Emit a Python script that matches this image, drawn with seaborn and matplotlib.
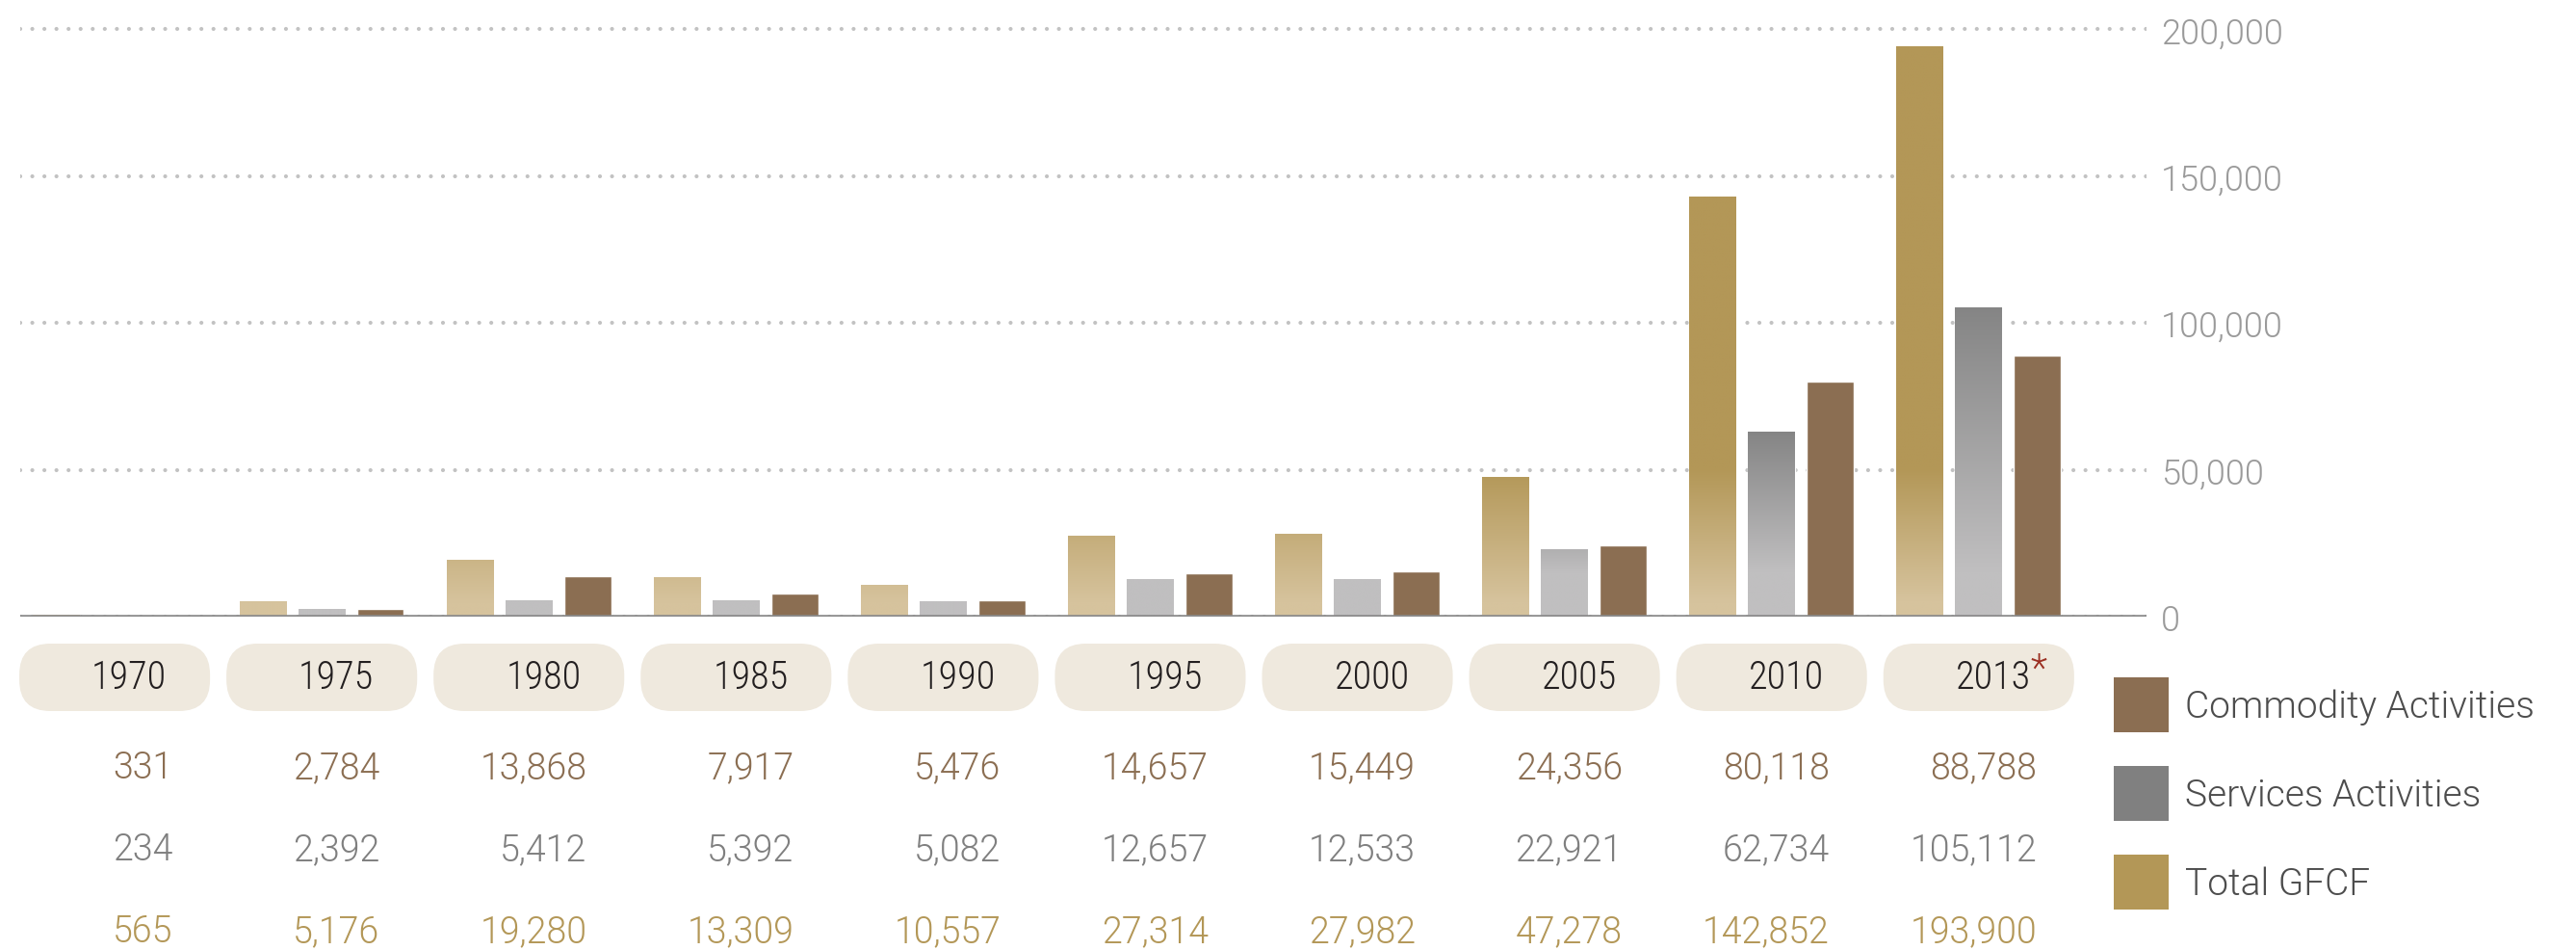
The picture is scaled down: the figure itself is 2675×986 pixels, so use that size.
import numpy as np
import pandas as pd
import seaborn as sns
import matplotlib.pyplot as plt
from matplotlib.patches import FancyBboxPatch, Patch
from matplotlib.ticker import FuncFormatter
from matplotlib.colors import to_rgb
import matplotlib.transforms as mtransforms

sns.set_style("white")
plt.rcParams['font.family'] = ['Roboto', 'DejaVu Sans']
plt.rcParams['font.weight'] = 300
COND = ['Roboto Condensed', 'DejaVu Sans']

# data
years = ["1970", "1975", "1980", "1985", "1990", "1995", "2000", "2005", "2010", "2013"]
commodity = [331, 2784, 13868, 7917, 5476, 14657, 15449, 24356, 80118, 88788]
services = [234, 2392, 5412, 5392, 5082, 12657, 12533, 22921, 62734, 105112]
total = [565, 5176, 19280, 13309, 10557, 27314, 27982, 47278, 142852, 193900]

series_names = ["Total GFCF", "Services Activities", "Commodity Activities"]
colors = {"Total GFCF": "#b39757",
          "Services Activities": "#808080",
          "Commodity Activities": "#8b6e52"}
text_colors = {"Commodity Activities": "#8b6e52",
               "Services Activities": "#7f7f7f",
               "Total GFCF": "#b39757"}

df = pd.DataFrame({
    "year": years * 3,
    "series": ["Total GFCF"] * 10 + ["Services Activities"] * 10 + ["Commodity Activities"] * 10,
    "value": total + services + commodity,
})

W, H = 2675, 987
fig = plt.figure(figsize=(W / 100, H / 100), dpi=100)
ax_top, ax_bot = 19, 641
ax = fig.add_axes([21 / W, 1 - ax_bot / H, 2208 / W, (ax_bot - ax_top) / H])

sns.barplot(data=df, x="year", y="value", hue="series", hue_order=series_names,
            palette=colors, width=0.85, gap=0.2, saturation=1, legend=False, ax=ax)

# gradient fills for the gold and grey bars
def grad_img(h, light, dark, t_fn):
    ys = np.linspace(0, h, 200)
    t = np.clip(t_fn(ys, h), 0, 1)[:, None]
    lo, hi = np.array(to_rgb(light)), np.array(to_rgb(dark))
    return (lo + (hi - lo) * t)[:, None, :]

grad = {
    "Total GFCF": ("#d6c39d", "#b39757", lambda y, h: (y - 5000) / 45000),
    "Services Activities": ("#c0bfc0", "#858585",
                            lambda y, h: (y - 15000) / (max(h, 45000) - 15000)),
}
for name, cont in zip(series_names, ax.containers):
    if name not in grad:
        continue
    light, dark, fn = grad[name]
    for p in cont.patches:
        x0, w, h = p.get_x(), p.get_width(), p.get_height()
        ax.imshow(grad_img(h, light, dark, fn), extent=(x0, x0 + w, 0, h),
                  origin="lower", aspect="auto", interpolation="bilinear",
                  zorder=p.get_zorder() + 0.1)

ax.set_xlim(-0.456, 9.81)
ax.set_ylim(0, 204000)
ax.axhline(0, color="#8c8c8c", lw=2.6, zorder=5)

ax.set_yticks([0, 50000, 100000, 150000, 200000])
ax.yaxis.set_major_formatter(FuncFormatter(lambda v, pos: f"{v:,.0f}"))
ax.yaxis.tick_right()
ax.tick_params(axis="y", length=0, pad=11, labelsize=26, labelcolor="#9a9a9a")
ax.set_xticks([])
ax.set(xlabel="", ylabel="")
ax.set_axisbelow(True)
ax.yaxis.grid(True, color="#c2c2c2", lw=3, linestyle=(0, (0.01, 3.0)),
              dash_capstyle="round")
sns.despine(ax=ax, left=True, bottom=True, right=True, top=True)

# year boxes and value table under the bars
px = ax_bot - ax_top
tr = mtransforms.blended_transform_factory(ax.transData, ax.transAxes)
def fy(p):
    return (ax_bot - p) / px

box_w = 198 / 215
for i, yr in enumerate(years):
    box = FancyBboxPatch((i - box_w / 2, fy(739)), box_w, fy(669) - fy(739),
                         boxstyle="round,pad=0,rounding_size=0.15",
                         mutation_aspect=215 / px,
                         transform=tr, facecolor="#efe9de", edgecolor="none",
                         clip_on=False)
    ax.add_patch(box)
    t = ax.text(i + 0.07, fy(704), yr, transform=tr, ha="center", va="center",
                fontsize=29, color="#231f20", family=COND)
    if yr == "2013":
        ax.annotate("*", xy=(1, 0.72), xycoords=t, ha="left", va="center",
                    fontsize=29, color="#9b2f22", family=COND)

rows = [("Commodity Activities", commodity, 797),
        ("Services Activities", services, 882),
        ("Total GFCF", total, 967)]
for name, vals, ypix in rows:
    for i, v in enumerate(vals):
        ax.text(i + 0.28, fy(ypix), f"{v:,}", transform=tr, ha="right",
                va="center", fontsize=27, color=text_colors[name])

# legend
handles = [Patch(facecolor=colors[n], edgecolor="none") for n in reversed(series_names)]
ax.legend(handles, list(reversed(series_names)), loc="upper left",
          bbox_to_anchor=((2195 - 21) / 2208, fy(704)), frameon=False,
          fontsize=28, labelcolor="#4d4d4d", borderpad=0, borderaxespad=0,
          handlelength=1.465, handleheight=1.877, labelspacing=0.9,
          handletextpad=0.44)

fig.savefig("out.png", dpi=100)
